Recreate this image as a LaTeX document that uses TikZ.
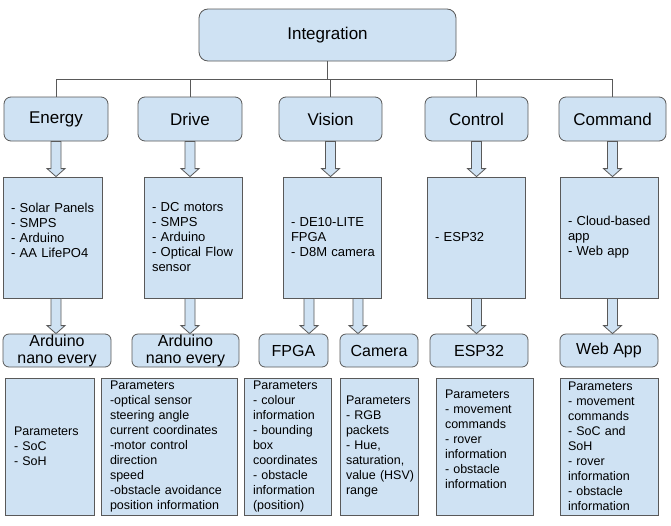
\documentclass[tikz,border=0pt]{standalone}
\usepackage{fontspec}
\setmainfont{Liberation Sans}
\usetikzlibrary{positioning}
\usetikzlibrary{calc}

\definecolor{boxblue}{HTML}{CFE2F3}
\definecolor{edgegray}{HTML}{595959}

\hyphenpenalty=10000
\exhyphenpenalty=10000

% hollow block arrow from #1 down to #2
\newcommand{\blockarr}[2]{%
  \filldraw[fill=boxblue, draw=edgegray, line width=0.8pt]
    let \p1=#1, \p2=#2 in
    (\x1-5pt,\y1) -- (\x1+5pt,\y1) -- (\x1+5pt,\y2+8pt) -- (\x1+9pt,\y2+8pt)
    -- (\x1,\y2) -- (\x1-9pt,\y2+8pt) -- (\x1-5pt,\y2+8pt) -- cycle;}

\begin{document}
\begin{tikzpicture}[x=1pt, y=-1pt, line width=0.8pt]

  % styles
  \tikzstyle{blk}=[draw=edgegray, fill=boxblue, inner sep=0pt]
  \tikzstyle{head}=[blk, rounded corners=7pt, minimum height=44pt, font=\fontsize{17}{20}\selectfont]
  \tikzstyle{part}=[blk, rounded corners=6pt, minimum height=33pt, align=center, font=\fontsize{16}{17}\selectfont]
  \tikzstyle{list}=[blk, minimum height=121pt, inner xsep=8pt, align=left, font=\fontsize{13}{15}\selectfont]
  \tikzstyle{param}=[blk, minimum height=137pt, inner xsep=9pt, align=left, font=\fontsize{12.5}{15}\selectfont]
  \tikzstyle{bus}=[draw=edgegray, line width=0.7pt]

  \useasboundingbox (0,0) rectangle (671,525);

  % top
  \node[head, rounded corners=9pt, minimum width=257pt, minimum height=52pt] (integ) at (327.5,35) {Integration};

  % subsystems
  \node[head, minimum width=104pt] (energy) at (56,119) {Energy};
  \node[head, minimum width=104pt] (drive) at (190,119) {Drive};
  \node[head, minimum width=103pt] (vision) at (330.5,119) {Vision};
  \node[head, minimum width=103pt] (control) at (476.5,119) {Control};
  \node[head, minimum width=107pt] (command) at (612.5,119) {Command};

  % component lists
  \node[list, text width=83pt] (enList) at (52.5,237.5) {-~Solar~Panels\\- SMPS\\- Arduino\\- AA LifePO4\\ \mbox{}};
  \node[list, text width=82pt] (drList) at (193,237.5) {- DC motors\\- SMPS\\- Arduino\\-~Optical~Flow\\sensor};
  \node[list, text width=82pt] (viList) at (332,237.5) {- DE10-LITE\\FPGA\\-~D8M~camera};
  \node[list, text width=82pt] (coList) at (476,237.5) {- ESP32};
  \node[list, text width=82pt] (cmList) at (609,237.5) {-~Cloud-based\\app\\- Web app};

  % boards
  \node[part, minimum width=108pt] (ardA) at (57,350.5) {Arduino\\nano every};
  \node[part, minimum width=107pt] (ardB) at (185.5,350.5) {Arduino\\nano every};
  \node[part, minimum width=69pt] (fpga) at (293.5,350.5) {FPGA};
  \node[part, minimum width=78pt] (cam) at (379,350.5) {Camera};
  \node[part, minimum width=98pt] (esp) at (479,350.5) {ESP32};
  \node[part, minimum width=98pt] (web) at (609,350.5) {Web App};

  % parameters
  \node[param, text width=71pt] (enPar) at (49.5,446.5) {Parameters\\- SoC\\- SoH};
  \node[param, text width=118pt] (drPar) at (169,446.5) {Parameters\\-optical sensor\\steering angle\\current~coordinates\\-motor control\\direction\\speed\\-obstacle~avoidance\\position~information};
  \node[param, text width=69pt] (viPar) at (287.5,446.5) {Parameters\\- colour\\information\\- bounding\\box\\coordinates\\- obstacle\\information\\(position)};
  \node[param, inner xsep=6pt, text width=66pt] (caPar) at (379,446.5) {Parameters\\- RGB\\packets\\- Hue,\\saturation,\\value~(HSV)\\range};
  \node[param, text width=79pt] (esPar) at (484.5,446.5) {Parameters\\- movement\\commands\\- rover\\information\\- obstacle\\information\\ \mbox{}};
  \node[param, inner xsep=8pt, text width=82pt] (wePar) at (609,446.5) {Parameters\\- movement\\commands\\- SoC and\\SoH\\- rover\\information\\- obstacle\\information};

  % tree lines
  \coordinate (busY) at (0,79);
  \foreach \nd in {energy,drive,vision,control,command}
    \draw[bus] (integ.south) |- (\nd.north |- busY) -- (\nd.north);

  % block arrows
  \foreach \nd/\lst in {energy/enList,drive/drList,vision/viList,control/coList,command/cmList}
    \blockarr{(\nd.south)}{(\nd.south |- \lst.north)};

  \blockarr{(energy.south |- enList.south)}{(energy.south |- ardA.north)};
  \blockarr{(drive.south |- drList.south)}{(drive.south |- ardB.north)};
  \blockarr{([xshift=-23pt]viList.south)}{([xshift=-23pt]viList.south |- fpga.north)};
  \blockarr{([xshift=26pt]viList.south)}{([xshift=26pt]viList.south |- cam.north)};
  \blockarr{(control.south |- coList.south)}{(control.south |- esp.north)};
  \blockarr{(command.south |- cmList.south)}{(command.south |- web.north)};

\end{tikzpicture}
\end{document}
